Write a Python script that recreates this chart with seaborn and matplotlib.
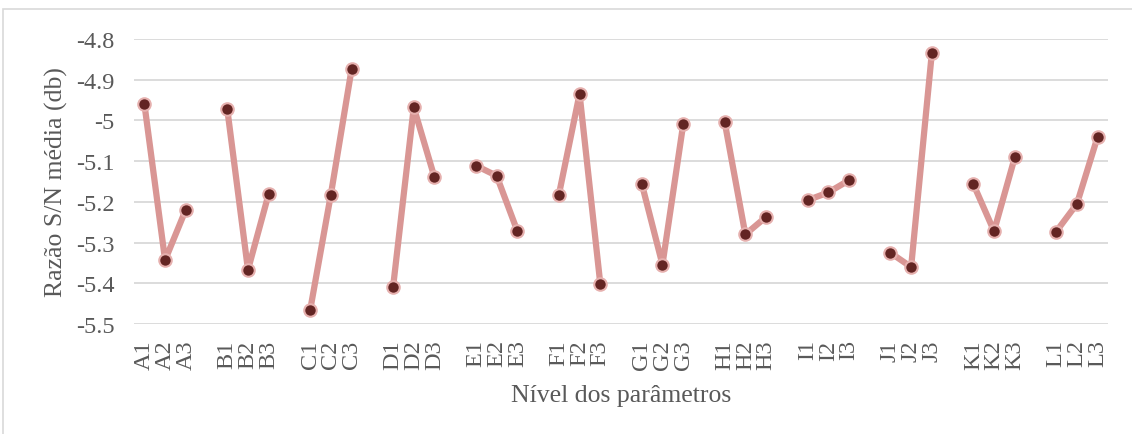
import pandas as pd
import numpy as np
import matplotlib.pyplot as plt
import seaborn as sns

# data
groups = ['A', 'B', 'C', 'D', 'E', 'F', 'G', 'H', 'I', 'J', 'K', 'L']
levels = [1, 2, 3]
sn_ratio = [-4.959, -5.343, -5.219,
            -4.972, -5.367, -5.180,
            -5.466, -5.182, -4.874,
            -5.410, -4.968, -5.140,
            -5.111, -5.136, -5.272,
            -5.183, -4.935, -5.401,
            -5.155, -5.354, -5.010,
            -5.003, -5.280, -5.237,
            -5.196, -5.177, -5.147,
            -5.325, -5.360, -4.834,
            -5.156, -5.272, -5.091,
            -5.273, -5.205, -5.040]
y_ticks = [-5.5, -5.4, -5.3, -5.2, -5.1, -5.0, -4.9, -4.8]
y_tick_labels = ['-5.5', '-5.4', '-5.3', '-5.2', '-5.1', '-5', '-4.9', '-4.8']

# build table: one empty slot between groups on the category axis
rows = []
for gi, g in enumerate(groups):
    for li, lv in enumerate(levels):
        rows.append({'group': g, 'label': f'{g}{lv}', 'pos': gi * 4 + li,
                     'sn': sn_ratio[gi * 3 + li]})
df = pd.DataFrame(rows)

sns.set_theme(style='white')
plt.rcParams['font.family'] = ['Liberation Serif', 'DejaVu Serif']

fig = plt.figure(figsize=(11.32, 4.35), dpi=100)
ax = fig.add_axes([134 / 1132, 1 - 325 / 435, (1108 - 134) / 1132, (325 - 40) / 435])

# chart-area border
fig.patches.append(plt.Rectangle((3 / 1132, -0.1), 1.2, 1 - 10 / 435 + 0.1,
                                 transform=fig.transFigure, fill=False,
                                 edgecolor='#D9D9D9', linewidth=1.2, zorder=0))

sns.lineplot(data=df, x='pos', y='sn', units='group', estimator=None,
             color='#D99694', linewidth=4.5, marker='o', markersize=9,
             markerfacecolor='#632523', markeredgecolor='#E6B0AE',
             markeredgewidth=1.5, ax=ax, zorder=3)

ax.set_xlim(-0.5, 46.5)
ax.set_ylim(-5.5, -4.8)
ax.set_yticks(y_ticks)
ax.set_yticklabels(y_tick_labels)
ax.set_xticks(df['pos'])
ax.set_xticklabels(df['label'], rotation=90)
ax.grid(axis='y', color='#D9D9D9', linewidth=1.3)
ax.set_axisbelow(True)
for s in ax.spines.values():
    s.set_visible(False)

ax.tick_params(axis='y', labelsize=17.5, labelcolor='#595959', pad=14, length=0)
ax.tick_params(axis='x', labelsize=17.5, labelcolor='#595959', pad=11, length=0)
ax.set_ylabel('Razão S/N média (db)', fontsize=18.5, color='#595959', labelpad=6)
ax.set_xlabel('Nível dos parâmetros', fontsize=18.5, color='#595959', labelpad=11)

plt.savefig('out.png', dpi=100)
